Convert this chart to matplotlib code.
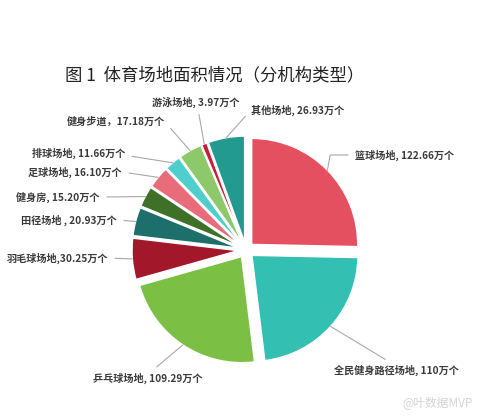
import numpy as np
import matplotlib
matplotlib.use("Agg")
import matplotlib.pyplot as plt

plt.rcParams['font.family'] = ['Noto Sans CJK SC', 'DejaVu Sans']

# ---- data ----
categories = ["篮球场地", "全民健身路径场地", "乒乓球场地", "羽毛球场地", "田径场地",
              "健身房", "足球场地", "排球场地", "健身步道", "游泳场地", "其他场地"]
values = [122.66, 110, 109.29, 30.25, 20.93, 15.20, 16.10, 11.66, 17.18, 3.97, 26.93]
label_texts = ["篮球场地, 122.66万个", "全民健身路径场地, 110万个", "乒乓球场地, 109.29万个",
               "羽毛球场地,30.25万个", "田径场地 , 20.93万个", "健身房, 15.20万个",
               "足球场地, 16.10万个", "排球场地, 11.66万个", "健身步道，17.18万个",
               "游泳场地, 3.97万个", "其他场地, 26.93万个"]
title = "图 1  体育场地面积情况（分机构类型）"

# ---- style ----
colors = ["#E4505F", "#33BFB2", "#7BBF44", "#A3172B", "#1D6F6B", "#3E7127",
          "#E86C7A", "#4ECFCB", "#8DC86B", "#C41E3A", "#239A90"]

W, H = 478, 416
def Y(y):
    return H - y

fig = plt.figure(figsize=(W / 100, H / 100), dpi=100)
ax = fig.add_axes([0, 0, 1, 1])

cx, cy = 246, Y(250)
R = 106
EXP = 8
ax.pie(values, colors=colors, startangle=90, counterclock=False,
       radius=R, center=(cx, cy), explode=[EXP] * len(values),
       wedgeprops=dict(edgecolor="white", linewidth=1.0))
ax.set_xlim(0, W)
ax.set_ylim(0, H)
ax.set_aspect("auto")
ax.axis("off")

# label text positions (px), alignment, and relative anchor of leader
label_pos = [
    (355, 155, "left", (0.0, 0.5)),
    (396, 370, "center", (0.48, 1.0)),
    (148, 378, "center", (0.52, 1.0)),
    (108, 258, "right", (1.0, 0.5)),
    (117, 220, "right", (1.0, 0.5)),
    (100, 197, "right", (1.0, 0.5)),
    (122, 172, "right", (1.0, 0.5)),
    (125, 153, "right", (1.0, 0.3)),
    (165, 122, "right", (1.0, 0.5)),
    (196, 102, "center", (0.52, 0.0)),
    (251, 110, "left", (0.0, 0.5)),
]

total = float(np.sum(values))
cum = np.cumsum([0] + values)
for i, (txt, (tx, ty, ha, rel)) in enumerate(zip(label_texts, label_pos)):
    mid = 90 - 360 * (cum[i] + cum[i + 1]) / 2 / total
    th = np.deg2rad(mid)
    px = cx + (R + EXP) * np.cos(th)
    py = cy + (R + EXP) * np.sin(th)
    cs = "arc3"
    if i == 0:
        cs = "angle,angleA=180,angleB=80,rad=0"
    ax.annotate(txt, xy=(px, py), xytext=(tx, Y(ty)), ha=ha, va="center",
                fontsize=7.3, fontweight="bold", color="#3a3a3a",
                arrowprops=dict(arrowstyle="-", color="#a8a8a8", lw=0.8,
                                shrinkA=3, shrinkB=0, relpos=rel,
                                connectionstyle=cs))

ax.text(65, Y(75), title, ha="left", va="center", fontsize=12.5, color="#222222")

ax.text(473, Y(403), "@叶数据MVP", ha="right", va="center", fontsize=8.5,
        color="#d4d4d4")

fig.savefig("out.png", dpi=100, facecolor="white")
